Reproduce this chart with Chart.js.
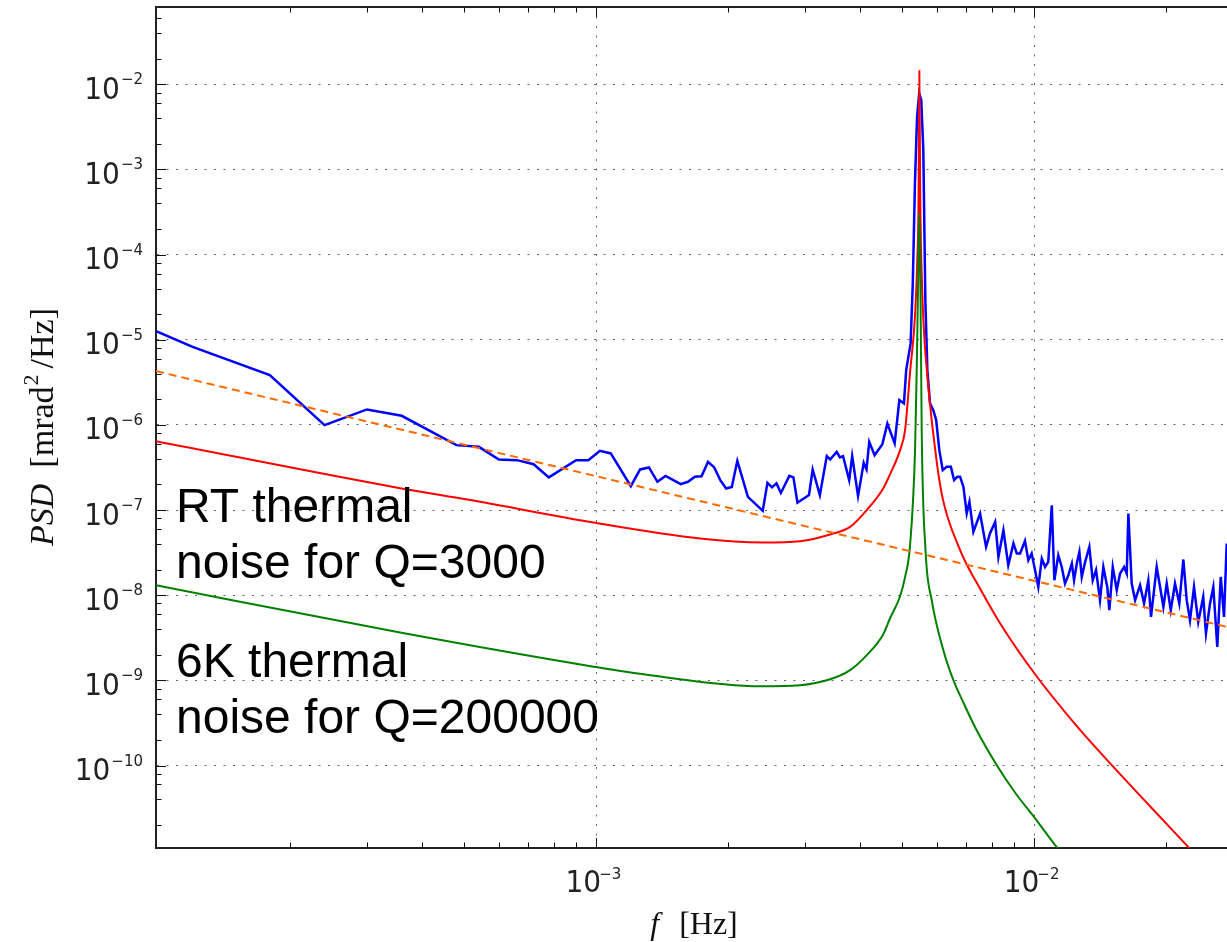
<!DOCTYPE html>
<html>
<head>
<meta charset="utf-8">
<script src="https://cdn.jsdelivr.net/npm/chart.js@4.4.0/dist/chart.umd.min.js"></script>
<style>
html,body{margin:0;padding:0;background:#fff;}
#wrap{width:1227px;height:942px;position:relative;}
</style>
</head>
<body>
<div id="wrap"><canvas id="c"></canvas></div>
<script>
// ---------------- data ----------------
const measuredFreq = [9.9e-5,1.2e-4,1.8e-4,2.4e-4,3.0e-4,3.6e-4,4.8e-4,5.4e-4,6.0e-4,6.6e-4,7.2e-4,7.8e-4,9.0e-4,9.6e-4,
1.02e-3,1.08e-3,1.20e-3,1.26e-3,1.32e-3,1.38e-3,1.44e-3,1.56e-3,1.62e-3,1.68e-3,1.74e-3,1.80e-3,1.86e-3,1.92e-3,1.98e-3,
2.04e-3,2.10e-3,2.22e-3,2.40e-3,2.46e-3,2.52e-3,2.58e-3,2.64e-3,2.76e-3,2.82e-3,2.88e-3,3.06e-3,3.12e-3,3.24e-3,3.36e-3,
3.42e-3,3.54e-3,3.60e-3,3.66e-3,3.78e-3,3.84e-3,3.96e-3,4.08e-3,4.14e-3,4.20e-3,4.32e-3,4.50e-3,4.62e-3,4.80e-3,4.92e-3,
5.04e-3,5.10e-3,5.22e-3,5.28e-3,5.34e-3,5.40e-3,5.46e-3,5.52e-3,5.58e-3,5.64e-3,5.70e-3,5.78e-3,5.88e-3,5.97e-3,6.07e-3,
6.18e-3,6.31e-3,6.45e-3,6.56e-3,6.67e-3,6.77e-3,6.89e-3,7.01e-3,7.11e-3,7.26e-3,7.52e-3,7.76e-3,7.92e-3,8.14e-3,8.28e-3,
8.50e-3,8.72e-3,8.96e-3,9.12e-3,9.28e-3,9.52e-3,9.69e-3,9.86e-3,1.004e-2,1.021e-2,1.040e-2,1.058e-2,1.076e-2,1.096e-2,
1.111e-2,1.134e-2,1.155e-2,1.175e-2,1.196e-2,1.218e-2,1.232e-2,1.250e-2,1.267e-2,1.283e-2,1.306e-2,1.335e-2,1.359e-2,
1.383e-2,1.412e-2,1.437e-2,1.467e-2,1.483e-2,1.510e-2,1.542e-2,1.569e-2,1.603e-2,1.625e-2,1.639e-2,1.668e-2,1.698e-2,
1.743e-2,1.780e-2,1.820e-2,1.846e-2,1.902e-2,1.936e-2,1.970e-2,2.005e-2,2.048e-2,2.094e-2,2.142e-2,2.188e-2,2.227e-2,
2.266e-2,2.314e-2,2.366e-2,2.429e-2,2.464e-2,2.517e-2,2.561e-2,2.615e-2,2.663e-2,2.709e-2,2.748e-2];
const measuredPSD = [1.265e-5,8.27e-6,3.85e-6,9.95e-7,1.52e-6,1.28e-6,5.79e-7,5.53e-7,3.93e-7,3.86e-7,3.46e-7,2.42e-7,3.86e-7,3.86e-7,
4.97e-7,4.63e-7,1.91e-7,3.00e-7,3.17e-7,2.15e-7,2.52e-7,2.02e-7,2.15e-7,2.46e-7,2.50e-7,3.68e-7,3.17e-7,2.25e-7,1.79e-7,
1.87e-7,3.79e-7,1.43e-7,9.80e-8,2.09e-7,1.85e-7,2.06e-7,1.59e-7,2.52e-7,2.42e-7,1.22e-7,1.50e-7,3.00e-7,1.50e-7,4.30e-7,
3.93e-7,4.83e-7,4.15e-7,4.30e-7,2.25e-7,4.30e-7,1.46e-7,3.59e-7,3.00e-7,6.33e-7,4.42e-7,5.95e-7,1.04e-6,6.07e-7,1.96e-6,
1.79e-6,4.40e-6,9.07e-6,4.60e-5,6.87e-4,4.16e-3,7.84e-3,6.54e-3,1.69e-3,2.92e-5,4.40e-6,1.79e-6,1.49e-6,1.14e-6,5.06e-7,
2.94e-7,3.22e-7,3.22e-7,2.25e-7,2.46e-7,2.46e-7,1.87e-7,9.13e-8,1.25e-7,5.55e-8,9.13e-8,3.70e-8,5.31e-8,7.27e-8,2.82e-8,
5.81e-8,2.25e-8,4.06e-8,3.09e-8,3.09e-8,4.35e-8,2.58e-8,3.09e-8,1.97e-8,1.25e-8,2.70e-8,2.15e-8,2.47e-8,1.14e-7,
1.50e-8,2.95e-8,2.15e-8,1.37e-8,1.72e-8,2.36e-8,1.50e-8,2.36e-8,3.23e-8,1.64e-8,2.47e-8,3.70e-8,1.50e-8,
1.97e-8,8.75e-9,2.15e-8,1.25e-8,6.67e-9,2.15e-8,1.15e-8,1.80e-8,2.15e-8,1.80e-8,9.13e-8,1.37e-8,8.75e-9,
1.31e-8,8.00e-9,1.50e-8,5.57e-9,2.15e-8,1.25e-8,7.29e-9,1.37e-8,6.67e-9,1.37e-8,8.00e-9,2.63e-8,8.75e-9,
5.09e-9,1.25e-8,4.86e-9,9.56e-9,3.56e-9,8.00e-9,1.25e-8,2.47e-9,1.64e-8,5.57e-9,4.06e-8];

// RT thermal noise, Q=3000
const rtFreq = [9.9e-5,3.57e-4,5.16e-4,9.95e-4,1.727e-3,2.404e-3,2.92e-3,3.478e-3,3.798e-3,4.145e-3,4.523e-3,4.686e-3,
4.939e-3,5.07e-3,5.205e-3,5.343e-3,5.408e-3,5.442e-3,5.464e-3,5.491e-3,5.523e-3,5.585e-3,5.724e-3,5.988e-3,6.19e-3,
6.77e-3,7.01e-3,7.45e-3,8.35e-3,1.004e-2,1.25e-2,1.502e-2,1.85e-2,2.266e-2];
const rtPSD = [6.45e-7,1.81e-7,1.31e-7,7.08e-8,4.64e-8,4.17e-8,4.31e-8,5.31e-8,6.35e-8,1.0e-7,1.81e-7,2.64e-7,
5.06e-7,8.69e-7,4.17e-6,1.95e-5,9.11e-5,4.37e-4,1.445e-2,4.37e-4,7.96e-5,1.61e-5,2.94e-6,3.66e-7,1.31e-7,
3.38e-8,2.30e-8,1.30e-8,4.7e-9,1.18e-9,2.9e-10,1.01e-10,3.2e-11,1.05e-11];

// 6K thermal noise, Q=200000
const coldFreq = [9.9e-5,3.57e-4,9.95e-4,1.328e-3,2.366e-3,2.92e-3,3.419e-3,3.798e-3,4.145e-3,4.523e-3,4.686e-3,
4.939e-3,5.07e-3,5.205e-3,5.343e-3,5.391e-3,5.422e-3,5.464e-3,5.500e-3,5.534e-3,5.645e-3,5.832e-3,6.20e-3,6.535e-3,
6.887e-3,7.33e-3,8.21e-3,9.07e-3,1.004e-2,1.125e-2,1.15e-2];
const coldPSD = [1.31e-8,3.65e-9,1.44e-9,1.15e-9,8.54e-10,8.78e-10,1.03e-9,1.32e-9,1.98e-9,3.49e-9,5.37e-9,
9.74e-9,1.63e-8,3.87e-8,5.06e-7,4.81e-6,2.92e-5,3.08e-4,2.92e-5,8.01e-7,3.38e-8,8.75e-9,2.26e-9,1.005e-9,
5.5e-10,2.8e-10,1.01e-10,4.7e-11,2.4e-11,1.1e-11,9.6e-12];

// dashed power-law guide
const fitFreq = [9.9e-5, 2.752e-2];
const fitPSD = [4.29e-6, 4.25e-9];

// axes
const xMin = 9.9e-5, xMax = 2.752e-2;
const yMin = 1.076e-11, yMax = 8.09e-2;
const xTickPowers = ['-3','-2'];
const yTickPowers = ['-2','-3','-4','-5','-6','-7','-8','-9','-10'];
const xMinorTicks = [2e-4,3e-4,4e-4,5e-4,6e-4,7e-4,8e-4,9e-4,2e-3,3e-3,4e-3,5e-3,6e-3,7e-3,8e-3,9e-3,2e-2];
const yMinorTicks = [2e-11,4e-11,6e-11,8e-11,2e-10,4e-10,6e-10,8e-10,2e-9,4e-9,6e-9,8e-9,2e-8,4e-8,6e-8,8e-8,
2e-7,4e-7,6e-7,8e-7,2e-6,4e-6,6e-6,8e-6,2e-5,4e-5,6e-5,8e-5,2e-4,4e-4,6e-4,8e-4,2e-3,4e-3,6e-3,8e-3,2e-2,4e-2,6e-2];
const xTitleParts = ['f', '[Hz]'];
const yTitleParts = ['PSD', '[mrad', '2', '/Hz]'];
const noteRT = ['RT thermal', 'noise for Q=3000'];
const noteCold = ['6K thermal', 'noise for Q=200000'];

// ---------------- rendering ----------------
const toXY = (fs, ps) => fs.map((f, i) => ({x: f, y: ps[i]}));
const pow10 = p => Number('1e' + p);
const sup = p => p.replace('-', '\u2212');

const decor = {
  id: 'decor',
  afterDatasetsDraw(chart) {
    const {ctx, chartArea: a, scales: {x, y}} = chart;
    ctx.save();
    ctx.strokeStyle = '#111';
    ctx.lineWidth = 1;
    ctx.beginPath();
    const xt = (v, len) => {
      const px = Math.round(x.getPixelForValue(v)) + 0.5;
      ctx.moveTo(px, a.bottom); ctx.lineTo(px, a.bottom - len);
      ctx.moveTo(px, a.top); ctx.lineTo(px, a.top + len);
    };
    const yt = (v, len) => {
      const py = Math.round(y.getPixelForValue(v)) + 0.5;
      ctx.moveTo(a.left, py); ctx.lineTo(a.left + len, py);
    };
    xTickPowers.forEach(p => xt(pow10(p), 10));
    xMinorTicks.forEach(v => { if (v > xMin && v < xMax) xt(v, 5.5); });
    yTickPowers.forEach(p => yt(pow10(p), 10));
    yMinorTicks.forEach(v => { if (v > yMin && v < yMax) yt(v, 5.5); });
    ctx.stroke();
    ctx.restore();
  },
  afterDraw(chart) {
    const {ctx, chartArea: a, scales: {x, y}} = chart;
    ctx.save();
    ctx.fillStyle = '#222';
    ctx.textBaseline = 'alphabetic';
    // y tick labels
    yTickPowers.forEach(p => {
      const py = y.getPixelForValue(pow10(p));
      const s = sup(p);
      ctx.font = '15px "DejaVu Sans"';
      ctx.textAlign = 'right';
      const right = a.left - 13;
      ctx.fillText(s, right, py);
      const w = ctx.measureText(s).width;
      ctx.font = '28px "DejaVu Sans"';
      ctx.save();
      ctx.translate(right - w - 1, py + 14.5);
      ctx.scale(1, 1.1);
      ctx.fillText('10', 0, 0);
      ctx.restore();
    });
    // x tick labels
    xTickPowers.forEach(p => {
      const px = x.getPixelForValue(pow10(p));
      ctx.font = '28px "DejaVu Sans"';
      ctx.textAlign = 'right';
      ctx.save();
      ctx.translate(px + 5, a.bottom + 44);
      ctx.scale(1, 1.1);
      ctx.fillText('10', 0, 0);
      ctx.restore();
      ctx.font = '15px "DejaVu Sans"';
      ctx.textAlign = 'left';
      ctx.fillText(sup(p), px + 3, a.bottom + 31);
    });
    // x title
    ctx.fillStyle = '#111';
    ctx.textAlign = 'left';
    ctx.font = 'italic 32px "Liberation Serif"';
    const fw = ctx.measureText(xTitleParts[0]).width;
    ctx.font = '32px "Liberation Serif"';
    const hw = ctx.measureText(xTitleParts[1]).width;
    const gap = 20;
    let sx = 694 - (fw + gap + hw) / 2;
    ctx.font = 'italic 32px "Liberation Serif"';
    ctx.fillText(xTitleParts[0], sx, 934);
    ctx.font = '32px "Liberation Serif"';
    ctx.fillText(xTitleParts[1], sx + fw + gap, 934);
    // y title (rotated)
    ctx.save();
    ctx.translate(53, 427);
    ctx.rotate(-Math.PI / 2);
    const fonts = ['italic 34px "Liberation Serif"', '34px "Liberation Serif"', '22px "Liberation Serif"', '34px "Liberation Serif"'];
    const gaps = [16, 1, 6, 0];
    const dys = [0, 0, -15, 0];
    let total = 0;
    const widths = yTitleParts.map((t, i) => { ctx.font = fonts[i]; const w = ctx.measureText(t).width; total += w + gaps[i]; return w; });
    let cx = -total / 2;
    yTitleParts.forEach((t, i) => {
      ctx.font = fonts[i];
      ctx.fillText(t, cx, dys[i]);
      cx += widths[i] + gaps[i];
    });
    ctx.restore();
    // annotations
    ctx.fillStyle = '#000';
    ctx.font = '48px "Liberation Sans"';
    ctx.textAlign = 'left';
    const ax = a.left + 20;
    ctx.fillText(noteRT[0], ax, 522);
    ctx.fillText(noteRT[1], ax, 578);
    ctx.fillText(noteCold[0], ax, 677);
    ctx.fillText(noteCold[1], ax, 733);
    ctx.restore();
  }
};

const gridColor = c => {
  const v = c.tick ? c.tick.value : 0;
  const l = Math.log10(v);
  return Math.abs(l - Math.round(l)) < 1e-6 ? 'rgba(0,0,0,0.6)' : 'rgba(0,0,0,0)';
};
const xGridTicks = s => { s.ticks = xTickPowers.map(p => ({value: pow10(p)})); };
const yGridTicks = s => { s.ticks = yTickPowers.map(p => ({value: pow10(p)})); };

new Chart(document.getElementById('c'), {
  type: 'line',
  data: {
    datasets: [
      {label: 'fit', data: toXY(fitFreq, fitPSD), borderColor: '#ff6a00', borderWidth: 2, borderDash: [8, 5], pointRadius: 0, tension: 0},
      {label: '6K', data: toXY(coldFreq, coldPSD), borderColor: '#008000', borderWidth: 2, pointRadius: 0, cubicInterpolationMode: 'monotone'},
      {label: 'RT', data: toXY(rtFreq, rtPSD), borderColor: '#ff0000', borderWidth: 2, pointRadius: 0, cubicInterpolationMode: 'monotone'},
      {label: 'measured', data: toXY(measuredFreq, measuredPSD), borderColor: '#0000ff', borderWidth: 2.5, pointRadius: 0, tension: 0}
    ]
  },
  options: {
    responsive: true,
    maintainAspectRatio: false,
    animation: false,
    devicePixelRatio: 1,
    layout: {padding: {left: 156, top: 7, right: 0, bottom: 94}},
    plugins: {legend: {display: false}, tooltip: {enabled: false}},
    scales: {
      x: {
        type: 'logarithmic', position: 'bottom', min: xMin, max: xMax,
        afterBuildTicks: xGridTicks,
        ticks: {display: false},
        grid: {color: gridColor, lineWidth: 1, drawTicks: false},
        border: {display: true, color: '#222', width: 2, dash: [2, 7.5]}
      },
      x2: {
        type: 'logarithmic', position: 'top', min: xMin, max: xMax,
        afterBuildTicks: xGridTicks,
        ticks: {display: false},
        grid: {display: false, drawTicks: false},
        border: {display: true, color: '#222', width: 2}
      },
      y: {
        type: 'logarithmic', position: 'left', min: yMin, max: yMax,
        afterBuildTicks: yGridTicks,
        ticks: {display: false},
        grid: {color: gridColor, lineWidth: 1, drawTicks: false},
        border: {display: true, color: '#222', width: 2, dash: [2, 7.5]}
      }
    }
  },
  plugins: [decor]
});
</script>
</body>
</html>
